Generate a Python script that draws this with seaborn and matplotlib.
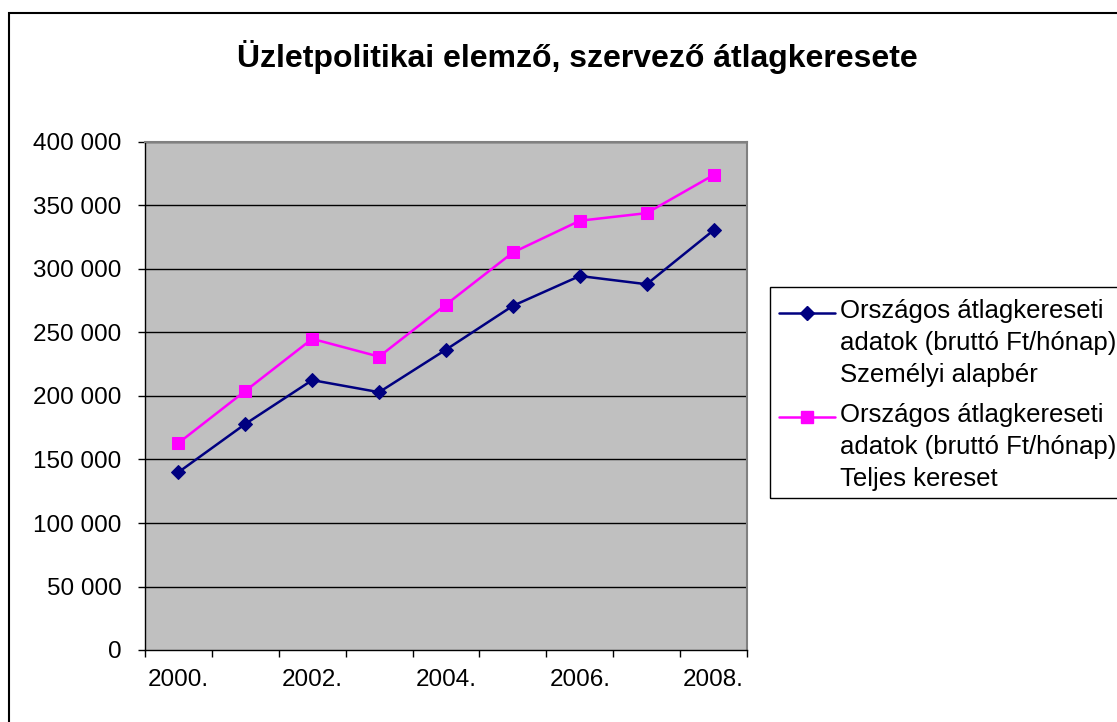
import matplotlib
matplotlib.use("Agg")
import matplotlib.pyplot as plt
import matplotlib.ticker as mticker
from matplotlib.lines import Line2D
from matplotlib.patches import Rectangle
import seaborn as sns
import pandas as pd

# Adatok (leolvasva az ábráról)
evek = ["2000.", "2001.", "2002.", "2003.", "2004.", "2005.", "2006.", "2007.", "2008."]
alapber = [140000, 178000, 212500, 203000, 236500, 271000, 294500, 288000, 330500]
teljes_kereset = [163000, 204000, 245000, 231000, 272000, 313000, 338000, 344000, 374000]
cim = "Üzletpolitikai elemző, szervező átlagkeresete"
cimke_alapber = "Országos átlagkereseti\nadatok (bruttó Ft/hónap)\nSzemélyi alapbér"
cimke_teljes = "Országos átlagkereseti\nadatok (bruttó Ft/hónap)\nTeljes kereset"

sns.set_theme(style="white")
plt.rcParams['font.family'] = ['Liberation Sans', 'DejaVu Sans']
plt.rcParams['text.color'] = 'black'
plt.rcParams['xtick.color'] = 'black'
plt.rcParams['ytick.color'] = 'black'

W, H = 1117, 722
fig = plt.figure(figsize=(W / 100, H / 100), dpi=100)
ax = fig.add_axes([145 / W, 1 - 650 / H, (747 - 145) / W, (650 - 142) / H])

df = pd.DataFrame({"x": range(len(evek)), "alap": alapber, "teljes": teljes_kereset})

ax.set_facecolor("#C0C0C0")
for v in range(50000, 400001, 50000):
    ax.axhline(v, color="#000000", lw=1.0, zorder=1)

sns.lineplot(data=df, x="x", y="alap", ax=ax, color="#000080", lw=1.8,
             marker="D", markersize=7.5, markeredgecolor="#000080", zorder=3)
sns.lineplot(data=df, x="x", y="teljes", ax=ax, color="#FF00FF", lw=1.8,
             marker="s", markersize=8.5, markeredgecolor="#FF00FF", zorder=3)

ax.set_xlim(-0.5, len(evek) - 0.5)
ax.set_ylim(0, 400000)
ax.set_xlabel("")
ax.set_ylabel("")

# x tengely: osztásjelek a kategóriák között, feliratok minden második évnél
ax.xaxis.set_major_locator(mticker.FixedLocator([i - 0.5 for i in range(len(evek) + 1)]))
ax.xaxis.set_major_formatter(mticker.NullFormatter())
ax.xaxis.set_minor_locator(mticker.FixedLocator(list(range(0, len(evek), 2))))
ax.xaxis.set_minor_formatter(mticker.FixedFormatter(evek[::2]))
ax.tick_params(axis="x", which="major", direction="out", length=5, width=1, color="black", bottom=True)
ax.tick_params(axis="x", which="minor", length=0, labelsize=17.5, pad=14, bottom=True)

ax.yaxis.set_major_locator(mticker.MultipleLocator(50000))
ax.yaxis.set_major_formatter(mticker.FuncFormatter(lambda v, p: f"{int(v):,}".replace(",", " ")))
ax.tick_params(axis="y", direction="out", length=5, width=1, color="black", labelsize=17.5, pad=12, left=True)

for side in ["top", "right"]:
    ax.spines[side].set_color("#808080")
    ax.spines[side].set_linewidth(1.5)
for side in ["left", "bottom"]:
    ax.spines[side].set_color("#000000")
    ax.spines[side].set_linewidth(1.0)

fig.text(577 / W, 1 - 57 / H, cim, ha="center", va="center", fontsize=23, fontweight="bold")

# Kézi jelmagyarázat
fig.patches.append(Rectangle((770 / W, 1 - 498 / H), 0.5, (498 - 287) / H,
                             transform=fig.transFigure, fill=False, edgecolor="black", lw=1.0))
for yc, col, mk, ms, lab in [(313, "#000080", "D", 7, cimke_alapber),
                            (417, "#FF00FF", "s", 8, cimke_teljes)]:
    fig.lines.append(Line2D([779 / W, 835 / W], [1 - yc / H] * 2, transform=fig.transFigure,
                            color=col, lw=1.8))
    fig.lines.append(Line2D([807 / W], [1 - yc / H], transform=fig.transFigure, color=col,
                            marker=mk, markersize=ms, markeredgecolor=col))
    fig.text(840 / W, 1 - (yc - 14) / H, lab, ha="left", va="top", fontsize=18.5, linespacing=1.42)

# Keret az ábra körül
fig.patches.append(Rectangle((9 / W, -0.1), 1.2, 1 - 13 / H + 0.1, transform=fig.transFigure,
                             fill=False, edgecolor="black", lw=1.5))

fig.savefig("out.png", dpi=100)
